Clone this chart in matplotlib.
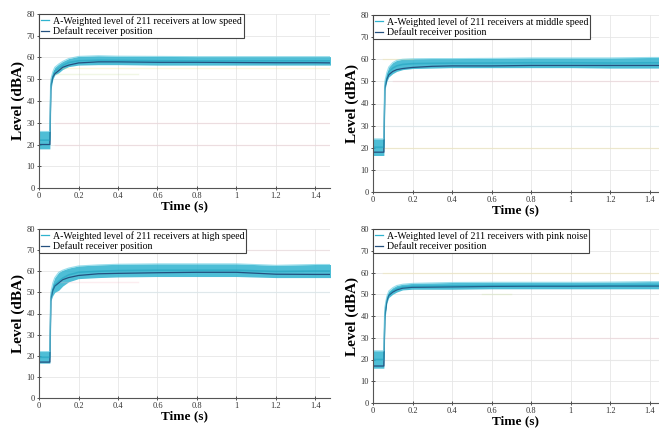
import matplotlib.pyplot as plt

plt.rcParams['font.family'] = ['Liberation Serif', 'DejaVu Serif']

# time samples (s)
t = [0, 0.05, 0.055, 0.06, 0.07, 0.08, 0.1, 0.12, 0.15, 0.2, 0.3, 0.4, 0.6, 0.8, 1.0, 1.2, 1.4, 1.5]

# low speed: envelope of the 211 receivers and the default receiver
low_lo = [18, 18, 18, 45, 50, 52, 53, 54.5, 55.8, 56.5, 56.7, 56.7, 56.5, 56.5, 56.5, 56.5, 56.5, 56.5]
low_hi = [26, 26, 26, 50, 53.5, 55.5, 57, 58.2, 59.5, 60.5, 60.8, 60.6, 60.5, 60.4, 60.4, 60.4, 60.4, 60.4]
low_def = [20, 20, 20, 47, 51, 52.5, 54, 55.5, 56.5, 57.5, 58, 58, 57.8, 57.8, 57.7, 57.6, 57.6, 57.5]

# middle speed
mid_lo = [16.5, 16.5, 16.5, 46, 50, 52, 53.5, 54.5, 55.3, 55.8, 56, 56.2, 56.2, 56.2, 56.2, 56, 56, 56]
mid_hi = [24, 24, 24, 50, 54, 56.5, 58.5, 59.5, 60, 60.2, 60.3, 60.3, 60.4, 60.6, 60.6, 60.6, 60.8, 60.8]
mid_def = [18, 18, 18, 47, 51, 53, 54.5, 55.3, 55.8, 56.3, 56.8, 57, 57, 57.2, 57.2, 57.2, 57.2, 57.2]

# high speed
high_lo = [16.5, 16.5, 16.5, 46, 48.5, 50, 51, 53, 55, 56.5, 57, 57.3, 57.5, 57.5, 57.5, 57, 57, 57]
high_hi = [22, 22, 22, 50, 54.5, 57, 59.5, 60.5, 61.5, 62.5, 63, 63.3, 63.5, 63.5, 63.5, 62.8, 63.2, 63.2]
high_def = [17, 17, 17, 47, 51, 53, 54.5, 56, 57, 58, 58.8, 59, 59.3, 59.5, 59.5, 58.6, 58.5, 58.5]

# pink noise
pink_lo = [16, 16, 16, 38, 46, 48.5, 50, 51, 52, 52.3, 52.3, 52.3, 52.5, 52.5, 52.5, 52.5, 52.5, 52.5]
pink_hi = [24, 24, 24, 44, 49, 51.5, 53, 54, 54.6, 55, 55.2, 55.4, 55.5, 55.5, 55.5, 55.6, 55.8, 55.8]
pink_def = [17, 17, 17, 40, 47, 49.5, 51, 52, 52.8, 53.2, 53.3, 53.4, 53.6, 53.7, 53.7, 53.8, 53.8, 53.8]

# scattered pale receivers: (start, end, level, colour)
low_pale = [(0.1, 1.5, 55, '#f3e27a'), (0.08, 0.5, 52.5, '#c9e39a'), (0.08, 1.5, 30, '#f4b8c4'), (0.08, 1.5, 20, '#f4b8c4')]
mid_pale = [(0.1, 1.5, 50, '#f4b8c4'), (0.05, 0.2, 60, '#f3e27a'), (0.05, 1.5, 30, '#bfe6f0'), (0.05, 1.5, 20, '#f3e27a')]
high_pale = [(0.1, 1.5, 50, '#bfe6f0'), (0.1, 0.5, 55, '#f4b8c4'), (0.3, 1.5, 70, '#f4c8d0')]
pink_pale = [(0.05, 1.5, 60, '#f3e27a'), (0.55, 0.7, 50, '#c9e39a'), (0.05, 1.5, 30, '#f4b8c4'), (0.05, 1.5, 20, '#e6e6e6')]

panels = [
    (low_lo, low_hi, low_def, low_pale, 'A-Weighted level of 211 receivers at low speed', [39, 14, 330, 188]),
    (mid_lo, mid_hi, mid_def, mid_pale, 'A-Weighted level of 211 receivers at middle speed', [373, 15, 659, 192]),
    (high_lo, high_hi, high_def, high_pale, 'A-Weighted level of 211 receivers at high speed', [39, 229, 330, 398]),
    (pink_lo, pink_hi, pink_def, pink_pale, 'A-Weighted level of 211 receivers with pink noise', [373, 229, 659, 403]),
]

W, H = 659, 430
fig = plt.figure(figsize=(W / 100, H / 100), dpi=100)

for lo, hi, default, pale, label, (x0, y0, x1, y1) in panels:
    ax = fig.add_axes([x0 / W, 1 - y1 / H, (x1 - x0) / W, (y1 - y0) / H])

    for ta, tb, level, c in pale:
        ax.plot([ta, tb], [level, level], color=c, lw=1.0, alpha=0.25)

    mid = [(a + b) / 2 for a, b in zip(lo, hi)]
    ref, = ax.plot(t, default, color='#24507f', lw=0.9)
    ax.fill_between(t, lo, hi, color='#2fb3cf', alpha=0.85, lw=0)
    ax.plot(t, mid, color='#1a9fbd', lw=1.2, alpha=0.5)
    ax.plot(t, hi, color='#6fd0e4', lw=0.8, alpha=0.7)
    band_handle, = ax.plot([], [], color='#2fb3cf', lw=0.9)

    ax.set_xlim(0, (x1 - x0) / 197.5)
    ax.set_ylim(0, 80)
    ax.set_xticks([0, 0.2, 0.4, 0.6, 0.8, 1, 1.2, 1.4])
    ax.set_xticklabels(['0', '0.2', '0.4', '0.6', '0.8', '1', '1.2', '1.4'])
    ax.set_yticks(range(0, 81, 10))
    ax.tick_params(direction='inout', length=3, width=0.6, labelsize=6, pad=1.5, colors='#333333')
    ax.grid(True, color='#e6e6e6', lw=0.6)
    ax.set_axisbelow(True)
    for s in ['top', 'right']:
        ax.spines[s].set_visible(False)
    for s in ['left', 'bottom']:
        ax.spines[s].set_color('#555555')
        ax.spines[s].set_linewidth(0.8)

    ax.set_xlabel('Time (s)', fontsize=9.5, fontweight='bold', labelpad=0)
    ax.set_ylabel('Level (dBA)', fontsize=11, fontweight='bold', labelpad=1)
    leg = ax.legend([band_handle, ref], [label, 'Default receiver position'],
                    loc='upper left', bbox_to_anchor=(0, 1), borderaxespad=0,
                    fontsize=7.1, handlelength=0.8, handletextpad=0.4,
                    labelspacing=0.1, borderpad=0.2, fancybox=False,
                    framealpha=1, edgecolor='#444444')
    leg.get_frame().set_linewidth(0.8)

fig.savefig('out.png', dpi=100)
